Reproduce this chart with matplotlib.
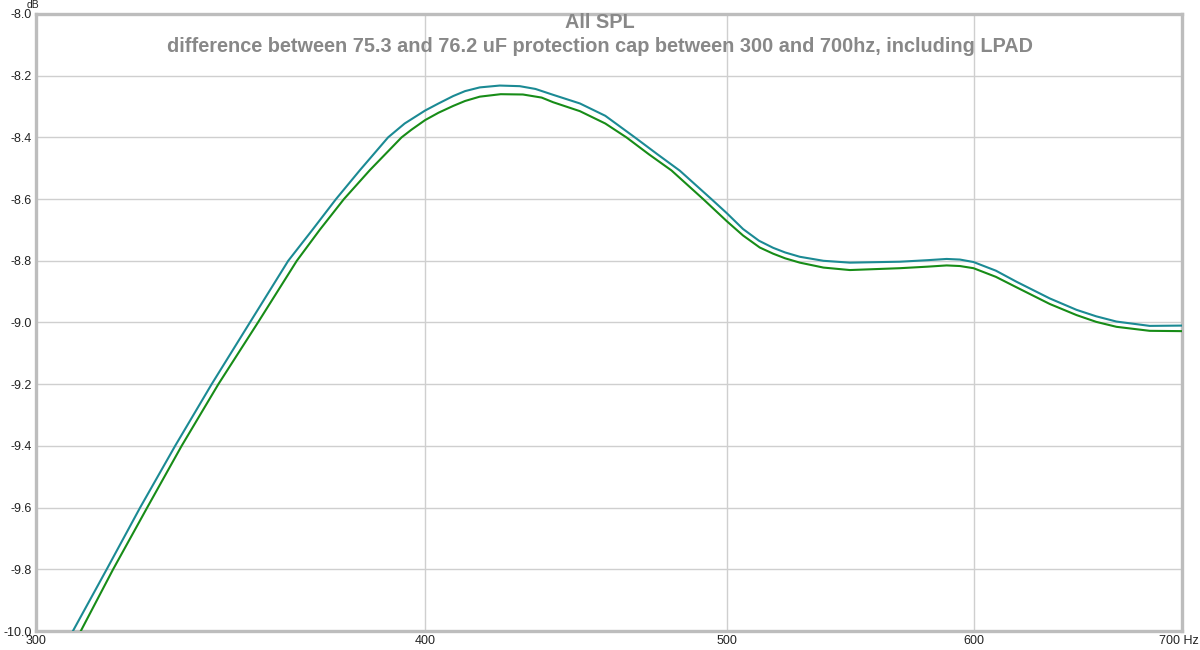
import matplotlib.pyplot as plt
import matplotlib.ticker as mticker
import matplotlib.transforms as mtrans

plt.rcParams['font.family'] = ['Liberation Sans', 'DejaVu Sans']

# frequency (Hz) / level (dB)
f_teal = [304, 308.3, 316.1, 324.0, 332.5, 341.6, 351.4, 361.5, 368, 374.5, 381.2, 389.2,
          394, 400, 404, 408.4, 412, 416.5, 422.7, 429.0, 434, 439.7, 448.5, 457, 467.1,
          475, 482.9, 494.3, 500, 506, 512, 517.4, 522, 527.7, 537, 547.6, 568.2, 580,
          588.2, 594, 600, 610, 619.4, 634.8, 647.5, 657, 666.9, 683.5, 700]
db_teal = [-10.11, -10.0, -9.8, -9.6, -9.4, -9.2, -9.0, -8.8, -8.70, -8.6, -8.506, -8.4,
           -8.355, -8.313, -8.290, -8.266, -8.250, -8.238, -8.232, -8.234, -8.243, -8.262, -8.29,
           -8.33, -8.4, -8.455, -8.508, -8.6, -8.646, -8.697, -8.735, -8.758, -8.773, -8.787,
           -8.800, -8.806, -8.803, -8.798, -8.794, -8.796, -8.804, -8.832, -8.868, -8.922,
           -8.959, -8.98, -8.997, -9.011, -9.010]

f_green = [305.5, 310.1, 317.6, 325.7, 334.1, 343.3, 353.5, 363.8, 370, 376.7, 384.0, 393.1,
           396, 400, 404, 408.4, 412, 416.5, 423, 430, 436, 439.7, 448.5, 457, 464.2,
           472, 479.9, 491.3, 500, 506, 512.3, 517.4, 522, 527.7, 537, 547.6, 568.2, 580,
           588.2, 594, 600, 610, 619.4, 634.8, 647.5, 657, 666.9, 683.5, 700]
db_green = [-10.11, -10.0, -9.8, -9.6, -9.4, -9.2, -9.0, -8.8, -8.70, -8.6, -8.506, -8.4,
            -8.375, -8.344, -8.320, -8.298, -8.282, -8.268, -8.260, -8.261, -8.271, -8.286, -8.315,
            -8.355, -8.4, -8.455, -8.507, -8.6, -8.672, -8.718, -8.757, -8.777, -8.792, -8.806,
            -8.822, -8.830, -8.824, -8.819, -8.815, -8.817, -8.824, -8.852, -8.886, -8.940,
            -8.976, -8.998, -9.014, -9.027, -9.028]

xticks = [300, 400, 500, 600, 700]
xlabels = ['300', '400', '500', '600', '700 Hz']
yticks = [-10.0, -9.8, -9.6, -9.4, -9.2, -9.0, -8.8, -8.6, -8.4, -8.2, -8.0]

fig = plt.figure(figsize=(12, 6.5), dpi=100)
ax = fig.add_axes([0.03, 0.0292, 0.955, 0.9493])

ax.plot(f_teal, db_teal, color='#1b8a94', lw=1.5, zorder=3)
ax.plot(f_green, db_green, color='#178c17', lw=1.5, zorder=3)

ax.set_xscale('log')
ax.set_xlim(300, 700)
ax.set_ylim(-10, -8)
ax.xaxis.set_major_locator(mticker.FixedLocator(xticks))
ax.xaxis.set_minor_locator(mticker.NullLocator())
ax.set_xticklabels(xlabels)
ax.set_yticks(yticks)
ax.set_yticklabels(['%.1f' % v for v in yticks])
ax.tick_params(length=0, labelsize=9, colors='#222222', pad=3)
ax.tick_params(axis='x', pad=3)
ax.grid(True, color='#cfcfcf', lw=1)
for s in ax.spines.values():
    s.set_color('#bdbdbd')
    s.set_linewidth(2.4)

# shift "700 Hz" so it ends at the right edge like the original
last = ax.get_xticklabels()[-1]
last.set_ha('right')
last.set_transform(last.get_transform() + mtrans.ScaledTranslation(0.17, 0, fig.dpi_scale_trans))

fig.text(33 / 1200, 1 - 5 / 650, 'dB', fontsize=7.5, color='#222222', ha='center', va='center')

fig.text(0.5, 1 - 22 / 650, 'All SPL', fontsize=14.3, fontweight='bold', color='#888888',
         ha='center', va='center')
fig.text(0.5, 1 - 46 / 650, 'difference between 75.3 and 76.2 uF protection cap between 300 and 700hz, including LPAD',
         fontsize=14.3, fontweight='bold', color='#888888', ha='center', va='center')

fig.savefig('out.png', dpi=100)
